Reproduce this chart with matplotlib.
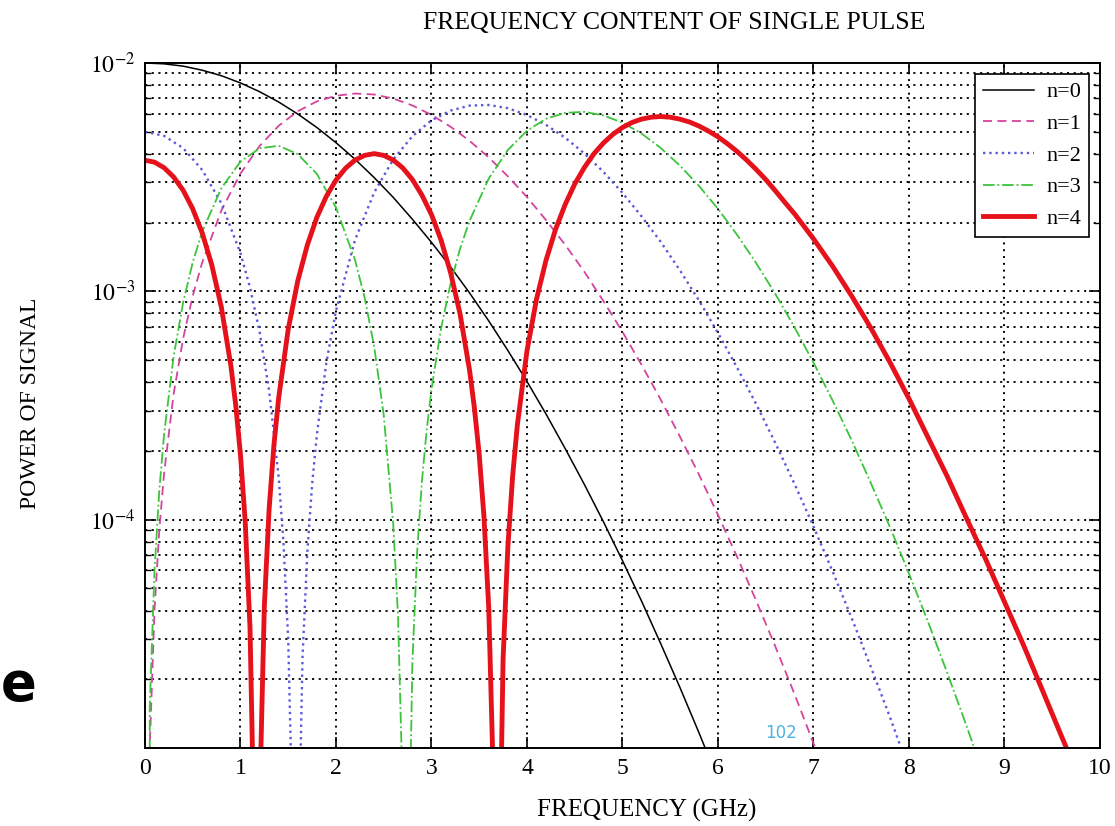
import matplotlib
matplotlib.use("Agg")
import matplotlib.pyplot as plt
from matplotlib.ticker import LogLocator, NullFormatter

plt.rcParams['font.family'] = ['Liberation Serif', 'DejaVu Serif']
plt.rcParams['mathtext.fontset'] = 'stix'

# ---------------- data ----------------
title = 'FREQUENCY CONTENT OF SINGLE PULSE'
xlabel = 'FREQUENCY (GHz)'
ylabel = 'POWER OF SIGNAL'
series_labels = ['n=0', 'n=1', 'n=2', 'n=3', 'n=4']

x_ticks = [0, 1, 2, 3, 4, 5, 6, 7, 8, 9, 10]
y_ticks = [1e-5, 1e-4, 1e-3, 1e-2]
y_tick_labels = ['', r'$10^{-4}$', r'$10^{-3}$', r'$10^{-2}$']

n0_freq = [0.0, 0.2, 0.4, 0.6, 0.8, 1.0, 1.2, 1.4, 1.6, 1.8, 2.0, 2.2, 2.4, 2.6,
           2.8, 3.0, 3.2, 3.4, 3.6, 3.8, 4.0, 4.2, 4.4, 4.6, 4.8, 5.0, 5.2, 5.4,
           5.6, 5.8, 6.0]
n0_power = [1.00e-2, 9.92e-3, 9.69e-3, 9.30e-3, 8.80e-3, 8.18e-3, 7.49e-3, 6.75e-3,
            5.98e-3, 5.22e-3, 4.48e-3, 3.79e-3, 3.15e-3, 2.58e-3, 2.07e-3, 1.64e-3,
            1.28e-3, 9.83e-4, 7.42e-4, 5.51e-4, 4.03e-4, 2.90e-4, 2.05e-4, 1.43e-4,
            9.81e-5, 6.62e-5, 4.40e-5, 2.87e-5, 1.85e-5, 1.17e-5, 7.28e-6]

n1_freq = [0.0, 0.05, 0.1, 0.15, 0.2, 0.3, 0.4, 0.5, 0.6, 0.8, 1.0, 1.2, 1.4, 1.6,
           1.8, 2.0, 2.2, 2.4, 2.6, 2.8, 3.0, 3.2, 3.4, 3.6, 3.8, 4.0, 4.2, 4.4,
           4.6, 4.8, 5.0, 5.2, 5.4, 5.6, 5.8, 6.0, 6.2, 6.4, 6.6, 6.8, 7.0, 7.2]
n1_power = [0.0, 1.00e-5, 4.01e-5, 8.99e-5, 1.59e-4, 3.55e-4, 6.22e-4, 9.54e-4,
            1.34e-3, 2.26e-3, 3.28e-3, 4.33e-3, 5.31e-3, 6.15e-3, 6.79e-3, 7.19e-3,
            7.35e-3, 7.28e-3, 6.99e-3, 6.52e-3, 5.93e-3, 5.26e-3, 4.56e-3, 3.86e-3,
            3.19e-3, 2.59e-3, 2.05e-3, 1.60e-3, 1.22e-3, 9.07e-4, 6.65e-4, 4.77e-4,
            3.36e-4, 2.32e-4, 1.58e-4, 1.05e-4, 6.88e-5, 4.42e-5, 2.79e-5, 1.73e-5,
            1.05e-5, 6.30e-6]

n2_freq = [0.0, 0.2, 0.4, 0.6, 0.8, 1.0, 1.1, 1.2, 1.3, 1.4, 1.45, 1.5, 1.55, 1.6,
           1.65, 1.7, 1.75, 1.8, 1.9, 2.0, 2.2, 2.4, 2.6, 2.8, 3.0, 3.2, 3.4, 3.6,
           3.8, 4.0, 4.2, 4.4, 4.6, 4.8, 5.0, 5.2, 5.4, 5.6, 5.8, 6.0, 6.2, 6.4,
           6.6, 6.8, 7.0, 7.2, 7.4, 7.6, 7.8, 8.0]
n2_power = [5.00e-3, 4.80e-3, 4.24e-3, 3.40e-3, 2.43e-3, 1.47e-3, 1.04e-3, 6.67e-4,
            3.68e-4, 1.54e-4, 7.99e-5, 2.99e-5, 3.92e-6, 2.28e-6, 2.49e-5, 7.17e-5,
            1.42e-4, 2.36e-4, 4.89e-4, 8.22e-4, 1.68e-3, 2.71e-3, 3.78e-3, 4.78e-3,
            5.61e-3, 6.19e-3, 6.51e-3, 6.55e-3, 6.34e-3, 5.92e-3, 5.36e-3, 4.71e-3,
            4.02e-3, 3.34e-3, 2.70e-3, 2.13e-3, 1.65e-3, 1.24e-3, 9.14e-4, 6.58e-4,
            4.64e-4, 3.21e-4, 2.17e-4, 1.44e-4, 9.34e-5, 5.94e-5, 3.71e-5, 2.27e-5,
            1.37e-5, 8.04e-6]

n3_freq = [0.0, 0.05, 0.1, 0.15, 0.2, 0.3, 0.4, 0.5, 0.6, 0.8, 1.0, 1.2, 1.4, 1.6,
           1.8, 2.0, 2.2, 2.3, 2.4, 2.5, 2.6, 2.65, 2.7, 2.75, 2.8, 2.85, 2.9, 2.95,
           3.0, 3.1, 3.2, 3.3, 3.4, 3.6, 3.8, 4.0, 4.2, 4.4, 4.6, 4.8, 5.0, 5.2,
           5.4, 5.6, 5.8, 6.0, 6.2, 6.4, 6.6, 6.8, 7.0, 7.2, 7.4, 7.6, 7.8, 8.0,
           8.2, 8.4, 8.6, 8.8]
n3_power = [0.0, 1.50e-5, 5.99e-5, 1.34e-4, 2.36e-4, 5.19e-4, 8.94e-4, 1.34e-3,
            1.83e-3, 2.83e-3, 3.70e-3, 4.23e-3, 4.34e-3, 3.99e-3, 3.27e-3, 2.33e-3,
            1.37e-3, 9.41e-4, 5.74e-4, 2.88e-4, 9.56e-5, 3.77e-5, 6.15e-6, 1.40e-6,
            2.35e-5, 7.22e-5, 1.47e-4, 2.47e-4, 3.71e-4, 6.87e-4, 1.08e-3, 1.54e-3,
            2.04e-3, 3.12e-3, 4.16e-3, 5.05e-3, 5.70e-3, 6.05e-3, 6.11e-3, 5.90e-3,
            5.48e-3, 4.91e-3, 4.25e-3, 3.56e-3, 2.90e-3, 2.30e-3, 1.77e-3, 1.33e-3,
            9.76e-4, 6.98e-4, 4.88e-4, 3.33e-4, 2.23e-4, 1.45e-4, 9.30e-5, 5.82e-5,
            3.57e-5, 2.14e-5, 1.26e-5, 7.27e-6]

n4_freq = [0.0, 0.1, 0.2, 0.3, 0.4, 0.5, 0.6, 0.7, 0.8, 0.9, 0.95, 1.0, 1.05, 1.1,
           1.15, 1.2, 1.25, 1.3, 1.35, 1.4, 1.5, 1.6, 1.7, 1.8, 1.9, 2.0, 2.1, 2.2,
           2.3, 2.4, 2.5, 2.6, 2.7, 2.8, 2.9, 3.0, 3.1, 3.2, 3.3, 3.4, 3.45, 3.5,
           3.55, 3.6, 3.65, 3.7, 3.75, 3.8, 3.85, 3.9, 4.0, 4.1, 4.2, 4.3, 4.4, 4.5,
           4.6, 4.7, 4.8, 4.9, 5.0, 5.1, 5.2, 5.3, 5.4, 5.5, 5.6, 5.7, 5.8, 5.9,
           6.0, 6.1, 6.2, 6.3, 6.4, 6.5, 6.6, 6.7, 6.8, 6.9, 7.0, 7.1, 7.2, 7.4,
           7.6, 7.8, 8.0, 8.2, 8.4, 8.6, 8.8, 9.0, 9.2, 9.4, 9.6, 9.8]
n4_power = [3.75e-3, 3.68e-3, 3.48e-3, 3.17e-3, 2.77e-3, 2.30e-3, 1.80e-3, 1.305e-3,
            8.52e-4, 4.72e-4, 3.19e-4, 1.93e-4, 9.76e-5, 3.38e-5, 2.98e-6, 5.61e-6,
            4.16e-5, 1.11e-4, 2.11e-4, 3.41e-4, 6.82e-4, 1.11e-3, 1.594e-3, 2.11e-3,
            2.61e-3, 3.07e-3, 3.46e-3, 3.76e-3, 3.94e-3, 4.01e-3, 3.94e-3, 3.76e-3,
            3.47e-3, 3.09e-3, 2.64e-3, 2.17e-3, 1.68e-3, 1.21e-3, 7.95e-4, 4.49e-4,
            3.08e-4, 1.93e-4, 1.03e-4, 4.09e-5, 6.85e-6, 1.36e-6, 2.45e-5, 7.60e-5,
            1.55e-4, 2.61e-4, 5.48e-4, 9.24e-4, 1.37e-3, 1.87e-3, 2.40e-3, 2.95e-3,
            3.48e-3, 4.00e-3, 4.46e-3, 4.87e-3, 5.22e-3, 5.49e-3, 5.68e-3, 5.79e-3,
            5.83e-3, 5.79e-3, 5.68e-3, 5.52e-3, 5.30e-3, 5.04e-3, 4.75e-3, 4.43e-3,
            4.10e-3, 3.76e-3, 3.42e-3, 3.09e-3, 2.76e-3, 2.455e-3, 2.19e-3, 1.93e-3,
            1.70e-3, 1.48e-3, 1.29e-3, 9.55e-4, 6.92e-4, 4.90e-4, 3.39e-4, 2.29e-4,
            1.55e-4, 1.02e-4, 6.76e-5, 4.37e-5, 2.82e-5, 1.78e-5, 1.12e-5, 7.08e-6]

# ---------------- figure ----------------
fig = plt.figure(figsize=(11.15, 8.26), dpi=100)
ax = fig.add_axes([0.1300, 0.0944, 0.8565, 0.8293])
ax.set_yscale('log', nonpositive='clip')

ax.plot(n0_freq, n0_power, color='black', lw=1.1, ls='-', label=series_labels[0])
ax.plot(n1_freq, n1_power, color='#d4449c', lw=1.3, dashes=(5, 3), label=series_labels[1])
ax.plot(n2_freq, n2_power, color='#5a5ad8', lw=1.7, ls=':', label=series_labels[2])
ax.plot(n3_freq, n3_power, color='#3cc43c', lw=1.3, ls='-.', label=series_labels[3])
ax.plot(n4_freq, n4_power, color='#e5121c', lw=3.5, ls='-', label=series_labels[4])

ax.set_xlim(0, 10)
ax.set_ylim(1e-5, 1e-2)
ax.set_xticks(x_ticks)
ax.set_xticklabels([str(t) for t in x_ticks])
ax.set_yticks(y_ticks)
ax.set_yticklabels(y_tick_labels)
ax.yaxis.set_minor_locator(LogLocator(base=10, subs=(2, 3, 4, 5, 6, 7, 8, 9)))
ax.yaxis.set_minor_formatter(NullFormatter())

ax.grid(True, which='major', color='black', lw=1.4, dashes=(1, 2.5))
ax.grid(True, which='minor', axis='y', color='black', lw=1.3, dashes=(1.2, 2.5))
ax.set_axisbelow(True)
ax.tick_params(which='both', direction='in', top=True, right=True)
ax.tick_params(which='major', length=8, width=1.2, labelsize=17, pad=7)
ax.tick_params(which='minor', length=4, width=1.0)
for sp in ax.spines.values():
    sp.set_linewidth(1.4)
    sp.set_color('black')

leg = ax.legend(loc='upper right', fontsize=16, frameon=True, fancybox=False,
                edgecolor='black', framealpha=1, borderaxespad=0.5,
                handlelength=2.3, labelspacing=0.5, handletextpad=0.55,
                borderpad=0.35)
leg.get_frame().set_linewidth(1.2)

fig.text(0.605, 0.972, title, ha='center', va='center', fontsize=18.5)
fig.text(0.580, 0.0194, xlabel, ha='center', va='center', fontsize=18)
fig.text(0.027, 0.512, ylabel, ha='center', va='center', fontsize=17, rotation=90)

# stray page fragments present in the reference
fig.text(0.001, 0.1525, 'e', ha='left', va='baseline', fontsize=38,
         fontweight='bold', family='DejaVu Sans')
fig.text(0.7005, 0.1126, '102', ha='center', va='center', fontsize=12,
         color='#4db3e6', family='DejaVu Sans')

fig.savefig('out.png', dpi=100)
